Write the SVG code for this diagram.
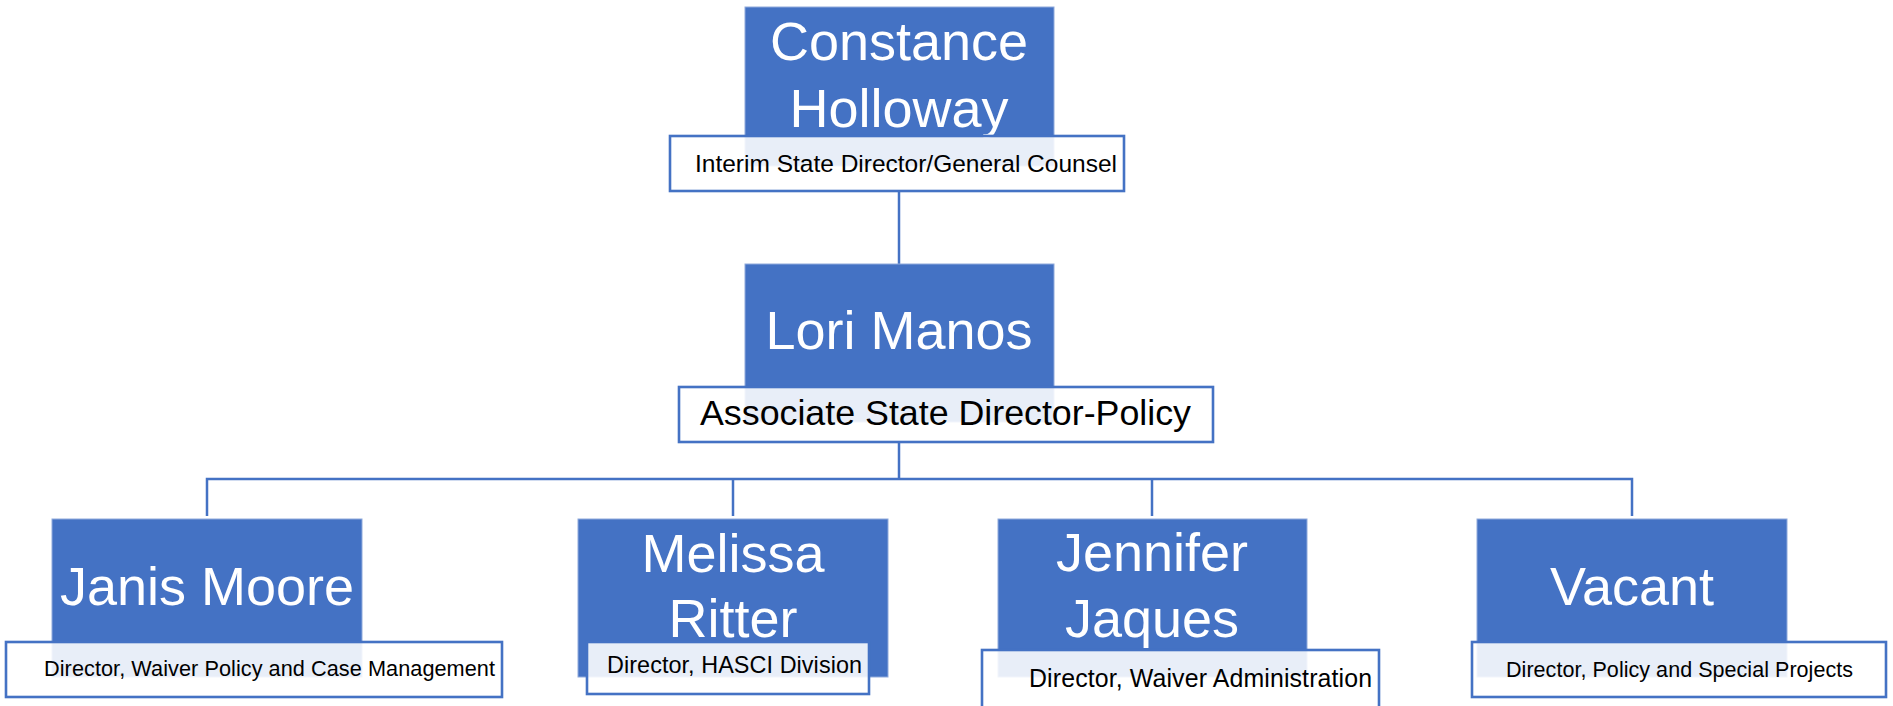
<svg xmlns="http://www.w3.org/2000/svg" width="1893" height="706" viewBox="0 0 1893 706">
<style>
.box{fill:#4472C4;stroke:#8FAADC;stroke-width:1}
.ttl{fill:#ffffff;fill-opacity:0.88;stroke:#4472C4;stroke-width:2.6}
.name{font-family:"Liberation Sans",Arial,sans-serif;font-size:54px;fill:#ffffff;text-anchor:middle}
.sub{font-family:"Liberation Sans",Arial,sans-serif;fill:#000000}
.conn{fill:none;stroke:#4472C4;stroke-width:2.5}
</style>
<rect width="1893" height="706" fill="#ffffff"/>
<g id="connectors">
<path class="conn" d="M899 192 V264"/>
<path class="conn" d="M899 442 V479"/>
<path class="conn" d="M207 516 V479 H1632 V516"/>
<path class="conn" d="M733 479 V516"/>
<path class="conn" d="M1152 479 V516"/>
</g>
<g id="node-constance">
<rect class="box" x="745" y="7" width="309" height="159"/>
<text class="name" x="899" y="60">Constance</text>
<text class="name" x="899" y="127">Holloway</text>
<rect class="ttl" x="670" y="136" width="454" height="55"/>
<text class="sub" x="695" y="172" font-size="24.5" textLength="422" lengthAdjust="spacing">Interim State Director/General Counsel</text>
</g>
<g id="node-lori">
<rect class="box" x="745" y="264" width="309" height="158"/>
<text class="name" x="899" y="349">Lori Manos</text>
<rect class="ttl" x="679" y="387" width="534" height="55"/>
<text class="sub" x="700" y="425" font-size="35.8" textLength="491" lengthAdjust="spacing">Associate State Director-Policy</text>
</g>
<g id="node-janis">
<rect class="box" x="52" y="519" width="310" height="158"/>
<text class="name" x="207" y="605">Janis Moore</text>
<rect class="ttl" x="6" y="642" width="496" height="55"/>
<text class="sub" x="44" y="676" font-size="21.7" textLength="451" lengthAdjust="spacing">Director, Waiver Policy and Case Management</text>
</g>
<g id="node-melissa">
<rect class="box" x="578" y="519" width="310" height="158"/>
<text class="name" x="733" y="572">Melissa</text>
<text class="name" x="733" y="637">Ritter</text>
<rect class="ttl" x="587" y="642" width="282" height="52"/>
<text class="sub" x="607" y="673" font-size="23.4" textLength="255" lengthAdjust="spacing">Director, HASCI Division</text>
</g>
<g id="node-jennifer">
<rect class="box" x="998" y="519" width="309" height="158"/>
<text class="name" x="1152" y="571">Jennifer</text>
<text class="name" x="1152" y="637">Jaques</text>
<rect class="ttl" x="982" y="650" width="397" height="70"/>
<text class="sub" x="1029" y="687" font-size="24.9" textLength="343" lengthAdjust="spacing">Director, Waiver Administration</text>
</g>
<g id="node-vacant">
<rect class="box" x="1477" y="519" width="310" height="158"/>
<text class="name" x="1632" y="605">Vacant</text>
<rect class="ttl" x="1472" y="642" width="414" height="55"/>
<text class="sub" x="1506" y="677" font-size="21.5" textLength="347" lengthAdjust="spacing">Director, Policy and Special Projects</text>
</g>
</svg>
